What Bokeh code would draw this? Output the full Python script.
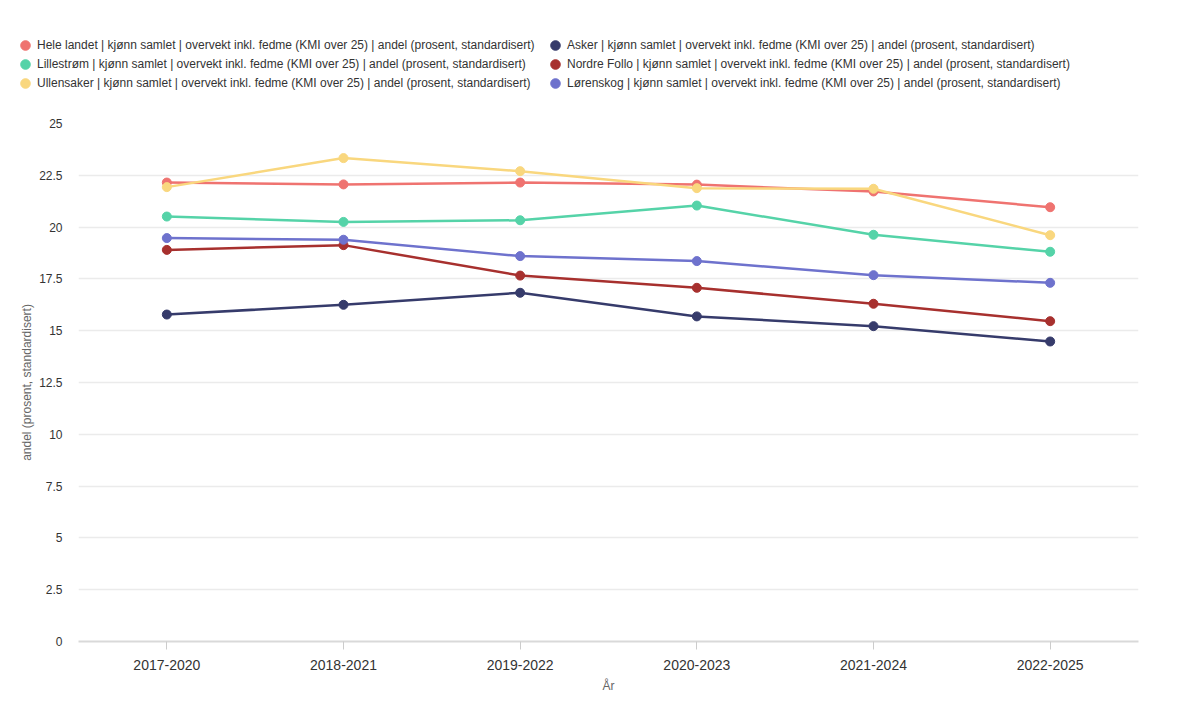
from bokeh.plotting import figure
from bokeh.models import Legend, LegendItem, FixedTicker, Range1d
from bokeh.layouts import column
from bokeh.embed import file_html
from bokeh.resources import INLINE

periods = ["2017-2020", "2018-2021", "2019-2022", "2020-2023", "2021-2024", "2022-2025"]

suffix = " | kjønn samlet | overvekt inkl. fedme (KMI over 25) | andel (prosent, standardisert)"
names = ["Hele landet", "Lillestrøm", "Ullensaker", "Asker", "Nordre Follo", "Lørenskog"]

hele_landet = [22.15, 22.06, 22.15, 22.05, 21.72, 20.96]
lillestrom = [20.51, 20.25, 20.33, 21.04, 19.63, 18.81]
ullensaker = [21.93, 23.33, 22.70, 21.88, 21.85, 19.61]
asker = [15.78, 16.25, 16.83, 15.69, 15.22, 14.48]
nordre_follo = [18.90, 19.13, 17.66, 17.07, 16.30, 15.46]
lorenskog = [19.47, 19.39, 18.60, 18.36, 17.68, 17.31]

series = [hele_landet, lillestrom, ullensaker, asker, nordre_follo, lorenskog]
colors = ["#EF7370", "#55D3A8", "#F9D77E", "#363B6B", "#A7302E", "#6E72CD"]

y_ticks = [0, 2.5, 5, 7.5, 10, 12.5, 15, 17.5, 20, 22.5, 25]
y_label = "andel (prosent, standardisert)"
x_label = "År"

font = "Liberation Sans"

# ---- layout sizes (pixels)
W = 1184
LH = 110            # legend strip height
H = 592             # main chart height
TOP, BOTTOM, LEFT, RIGHT = 13, 61, 78, 46

# ---- main chart
p = figure(x_range=periods, width=W, height=H, output_backend="svg",
           toolbar_location=None, min_border_left=LEFT, min_border_right=RIGHT,
           min_border_top=TOP, min_border_bottom=BOTTOM)
p.y_range = Range1d(0, 25)
p.outline_line_color = None
p.background_fill_color = "white"
p.border_fill_color = "white"

p.xgrid.grid_line_color = None
p.ygrid.grid_line_color = "#ebebeb"
p.ygrid.grid_line_width = 1.5

p.yaxis.ticker = FixedTicker(ticks=y_ticks)
p.yaxis.axis_line_color = None
p.yaxis.major_tick_line_color = None
p.yaxis.minor_tick_line_color = None
p.yaxis.major_label_text_font = font
p.yaxis.major_label_text_font_size = "12px"
p.yaxis.major_label_text_color = "#333333"
p.yaxis.major_label_standoff = 10
p.yaxis.axis_label = y_label
p.yaxis.axis_label_text_font = font
p.yaxis.axis_label_text_font_size = "12px"
p.yaxis.axis_label_text_font_style = "normal"
p.yaxis.axis_label_text_color = "#666666"
p.yaxis.axis_label_standoff = 2

p.xaxis.axis_line_color = "#d9d9d9"
p.xaxis.axis_line_width = 2
p.xaxis.major_tick_line_color = "#cccccc"
p.xaxis.major_tick_in = 0
p.xaxis.major_tick_out = 8
p.xaxis.minor_tick_line_color = None
p.xaxis.major_label_text_font = font
p.xaxis.major_label_text_font_size = "14px"
p.xaxis.major_label_text_color = "#333333"
p.xaxis.major_label_standoff = 10
p.xaxis.axis_label = x_label
p.xaxis.axis_label_text_font = font
p.xaxis.axis_label_text_font_size = "12px"
p.xaxis.axis_label_text_font_style = "normal"
p.xaxis.axis_label_text_color = "#666666"
p.xaxis.axis_label_standoff = 6

for vals, col in zip(series, colors):
    p.line(periods, vals, line_color=col, line_width=2.5)
    p.scatter(periods, vals, size=9, fill_color=col, line_color=col)

# ---- legend strip (its own small figure, hidden swatch renderers)
lp = figure(x_range=periods, width=W, height=LH, output_backend="svg",
            toolbar_location=None, min_border=0, x_axis_location=None,
            y_axis_location=None)
lp.outline_line_color = None
lp.grid.grid_line_color = None
lp.border_fill_color = "white"

for fig in (lp, p):
    if "frame_align" in fig.properties():
        fig.frame_align = False

items = []
for name, vals, col in zip(names, series, colors):
    r = lp.scatter(periods, vals, size=9, fill_color=col, line_color=col)
    r.visible = False
    items.append(LegendItem(label=name + suffix, renderers=[r]))

for row in range(3):
    leg = Legend(items=[items[row], items[row + 3]],
                 location=(13, LH - (57 + 19 * row)), orientation="horizontal")
    leg.label_text_font = font
    leg.label_text_font_size = "12px"
    leg.label_text_color = "#333333"
    leg.glyph_width = 24
    leg.glyph_height = 24
    leg.label_height = 19
    leg.label_width = 506
    leg.label_standoff = 0
    leg.spacing = 0
    leg.padding = 0
    leg.margin = 0
    leg.border_line_color = None
    leg.background_fill_alpha = 0
    leg.inactive_fill_alpha = 0
    leg.click_policy = "none"
    lp.add_layout(leg, "center")

layout = column(lp, p, spacing=0)
open("out.html", "w").write(file_html(layout, INLINE))
